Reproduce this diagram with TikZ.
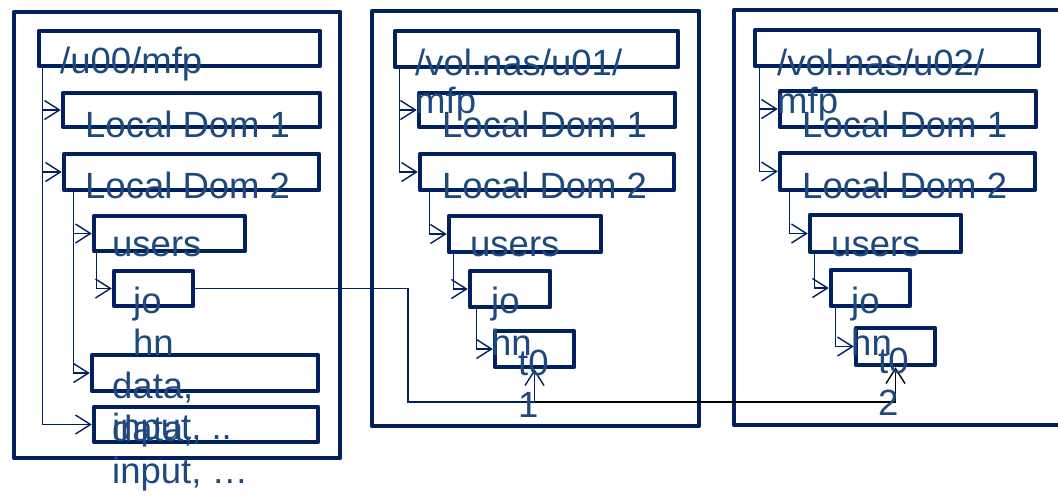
\documentclass[tikz,border=0pt]{standalone}
\usepackage{fontspec}
\setmainfont{Liberation Sans}
\usetikzlibrary{arrows.meta,fit}
\definecolor{navy}{RGB}{0,32,96}
\definecolor{txtblue}{RGB}{31,73,125}
\begin{document}
\begin{tikzpicture}[x=1pt,y=-1pt,
  panel/.style={draw=navy,line width=4.5pt,line join=round,inner sep=0pt},
  box/.style={draw=navy,line width=4.5pt,line join=round,inner sep=0pt},
  lbl/.style={anchor=base west,inner sep=0pt,text=txtblue,font=\fontsize{36.5}{44}\selectfont},
  conn/.style={draw=navy,line width=1.4pt,-{Straight Barb[length=15pt,width=19pt,line width=1.4pt]}},
  blackconn/.style={draw=black,line width=1.4pt,-{Straight Barb[length=15pt,width=19pt,line width=1.4pt]}}]
\fill[white] (0,0) rectangle (1058,499);
\useasboundingbox (0,0) rectangle (1058,499);

% ---------- panel 1 ----------
\node[panel,fit={(14,12) (340,458)}] (p1) {};
\node[box,fit={(39,31) (320,66)}] (p1root) {};
\node[box,fit={(63,93) (320,127)}] (p1ld1) {};
\node[box,fit={(64,154) (319,190)}] (p1ld2) {};
\node[box,fit={(94,216) (245,251)}] (p1users) {};
\node[box,fit={(114,271) (193,306)}] (p1jo) {};
\node[box,fit={(92,355) (318,391)}] (p1d1) {};
\node[box,fit={(94,407) (318,442)}] (p1d2) {};

% ---------- panel 2 ----------
\node[panel,fit={(372,11) (699,426)}] (p2) {};
\node[box,fit={(395,31) (678,67)}] (p2root) {};
\node[box,fit={(419,93) (675,127)}] (p2ld1) {};
\node[box,fit={(420,154) (674,190)}] (p2ld2) {};
\node[box,fit={(449,216) (601,252)}] (p2users) {};
\node[box,fit={(470,271) (550,307)}] (p2jo) {};
\node[box,fit={(495,331) (574,367)}] (p2t) {};

% ---------- panel 3 ----------
\node[panel,fit={(734,10) (1062,425)}] (p3) {};
\node[box,fit={(755,30) (1039,66)}] (p3root) {};
\node[box,fit={(780,91) (1036,127)}] (p3ld1) {};
\node[box,fit={(780,153) (1035,190)}] (p3ld2) {};
\node[box,fit={(810,215) (961,252)}] (p3users) {};
\node[box,fit={(831,270) (910,306)}] (p3jo) {};
\node[box,fit={(856,328) (935,365)}] (p3t) {};

% ---------- tree connectors ----------
\draw[conn] ([xshift=6pt]p1root.south west) |- (p1ld1.west);
\draw[conn] ([xshift=6pt]p1root.south west) |- (p1ld2.west);
\draw[conn] ([xshift=6pt]p1root.south west) |- (p1d2.west);
\draw[conn] ([xshift=12pt]p1ld2.south west) |- (p1users.west);
\draw[conn] ([xshift=12pt]p1ld2.south west) |- (p1d1.west);
\draw[conn] ([xshift=5pt]p1users.south west) |- (p1jo.west);

\draw[conn] ([xshift=7pt]p2root.south west) |- (p2ld1.west);
\draw[conn] ([xshift=7pt]p2root.south west) |- (p2ld2.west);
\draw[conn] ([xshift=12pt]p2ld2.south west) |- (p2users.west);
\draw[conn] ([xshift=7pt]p2users.south west) |- (p2jo.west);
\draw[conn] ([xshift=9pt]p2jo.south west) |- (p2t.west);

\draw[conn] ([xshift=7pt]p3root.south west) |- (p3ld1.west);
\draw[conn] ([xshift=7pt]p3root.south west) |- (p3ld2.west);
\draw[conn] ([xshift=12pt]p3ld2.south west) |- (p3users.west);
\draw[conn] ([xshift=7pt]p3users.south west) |- (p3jo.west);
\draw[conn] ([xshift=7pt]p3jo.south west) |- (p3t.west);

% ---------- cross-panel connectors ----------
\coordinate (bendA) at (408,291);
\coordinate (bendB) at (408,402);
\draw[blackconn] (p1jo.east) -- (bendA |- p1jo.east) -- (bendB) -| (p3t.south);
\draw[conn] (p1jo.east) -- (bendA |- p1jo.east) -- (bendB) -| (p2t.south);

% ---------- labels ----------
\node[lbl] (l1root) at (60,73) {/u00/mfp};
\node[lbl] (l1ld1) at (85,137) {Local Dom 1};
\node[lbl] (l1ld2) at (85,198) {Local Dom 2};
\node[lbl] (l1users) at (112,256) {users};
\node[lbl] (l1joa) at (133,313) {jo};
\node[lbl] (l1job) at (133,355) {hn};
\node[lbl] (l1d1a) at (112,398) {data,};
\node[lbl] (l1d1b) at (112,439) {input, ..};
\node[lbl] (l1d2a) at (112,441) {data,};
\node[lbl] (l1d2b) at (112,483) {input, …};

\node[lbl] (l2roota) at (415,75) {/vol.nas/u01/};
\node[lbl] (l2rootb) at (415,113) {mfp};
\node[lbl] (l2ld1) at (442,137) {Local Dom 1};
\node[lbl] (l2ld2) at (442,198) {Local Dom 2};
\node[lbl] (l2users) at (470,256) {users};
\node[lbl] (l2joa) at (491,313) {jo};
\node[lbl] (l2job) at (491,355) {hn};
\node[lbl] (l2ta) at (518,375) {t0};
\node[lbl] (l2tb) at (518,417) {1};

\node[lbl] (l3roota) at (777,75) {/vol.nas/u02/};
\node[lbl] (l3rootb) at (777,113) {mfp};
\node[lbl] (l3ld1) at (802,137) {Local Dom 1};
\node[lbl] (l3ld2) at (802,198) {Local Dom 2};
\node[lbl] (l3users) at (831,256) {users};
\node[lbl] (l3joa) at (851,313) {jo};
\node[lbl] (l3job) at (851,355) {hn};
\node[lbl] (l3ta) at (878,373) {t0};
\node[lbl] (l3tb) at (878,415) {2};
\end{tikzpicture}
\end{document}
